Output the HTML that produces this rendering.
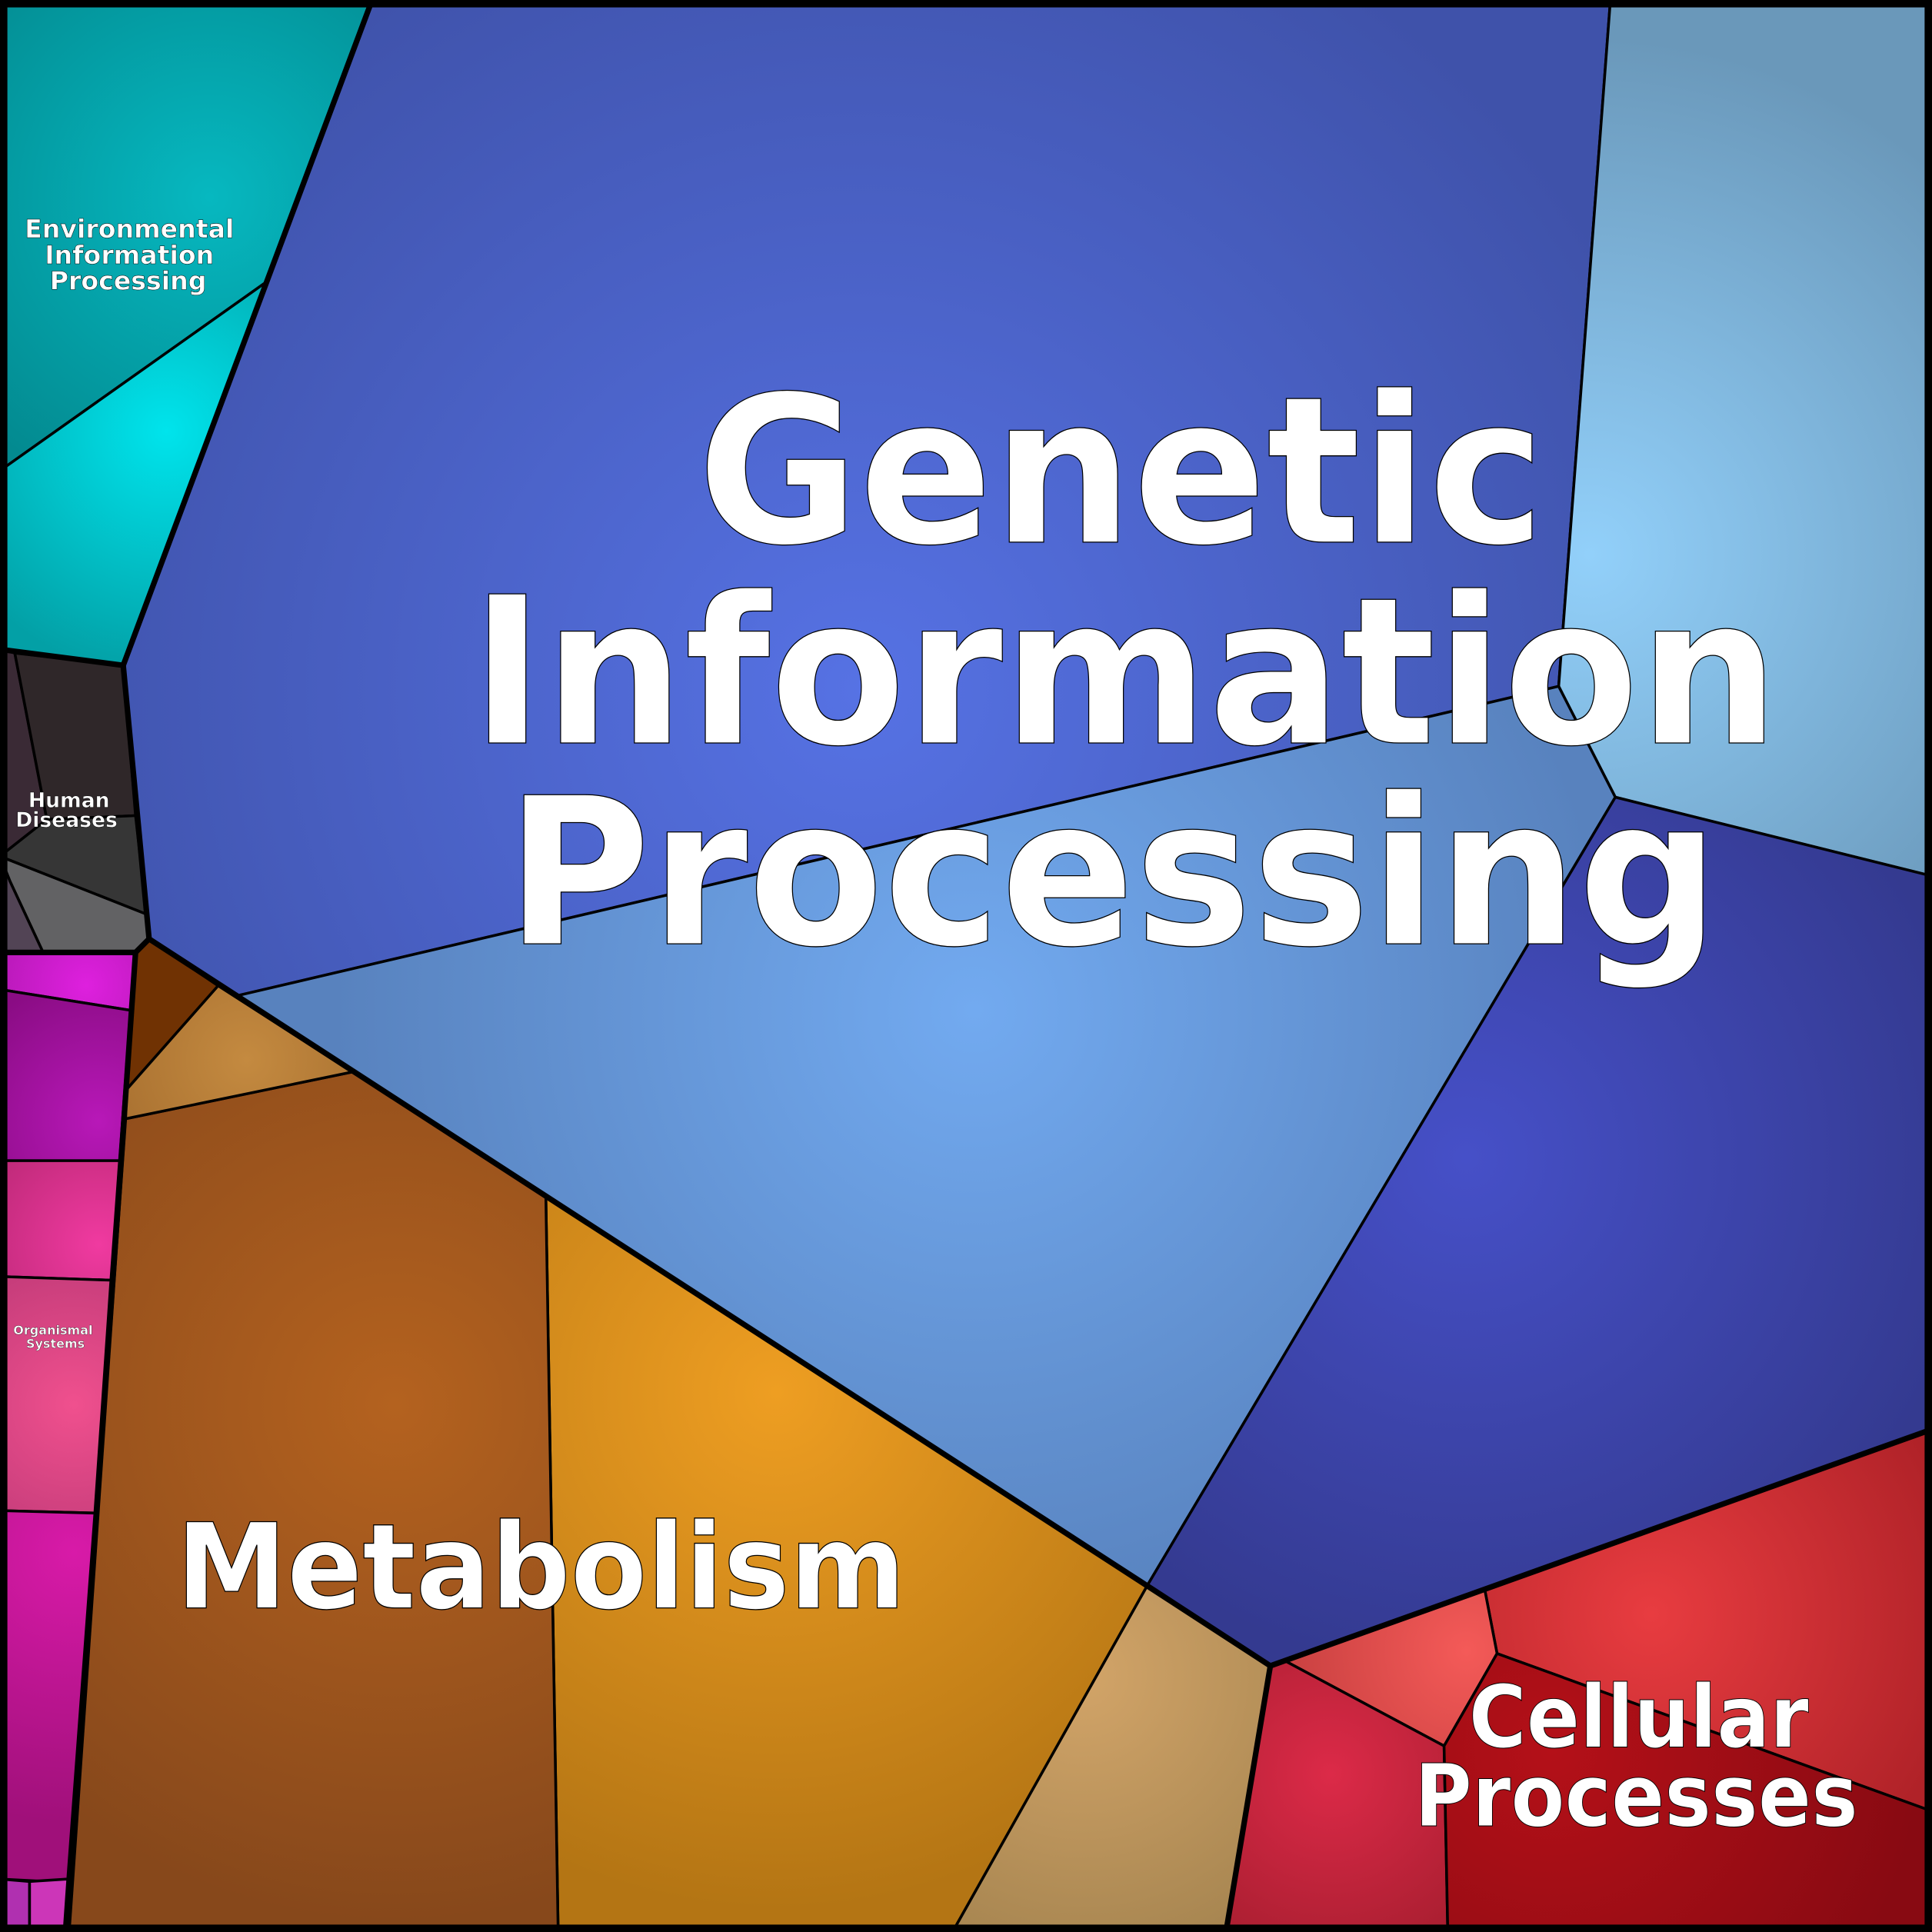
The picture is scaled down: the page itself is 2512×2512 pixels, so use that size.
<!DOCTYPE html>
<html><head><style>html,body{margin:0;padding:0;background:#000}svg{display:block}</style></head>
<body>
<svg width="2512" height="2512" viewBox="0 0 1568 1568" xmlns="http://www.w3.org/2000/svg">
<defs>
<radialGradient id="gTop" gradientUnits="userSpaceOnUse" cx="700" cy="560" r="700"><stop offset="0" stop-color="#5672e4"/><stop offset="1" stop-color="#3f52aa"/></radialGradient>
<radialGradient id="gMid" gradientUnits="userSpaceOnUse" cx="790" cy="820" r="520"><stop offset="0" stop-color="#72aaf0"/><stop offset="1" stop-color="#5882be"/></radialGradient>
<radialGradient id="gTR" gradientUnits="userSpaceOnUse" cx="1290" cy="450" r="420"><stop offset="0" stop-color="#92d0fa"/><stop offset="1" stop-color="#6a98ba"/></radialGradient>
<radialGradient id="gDB" gradientUnits="userSpaceOnUse" cx="1190" cy="940" r="420"><stop offset="0" stop-color="#4650c8"/><stop offset="1" stop-color="#343a90"/></radialGradient>
<radialGradient id="gEnv1" gradientUnits="userSpaceOnUse" cx="170" cy="160" r="260"><stop offset="0" stop-color="#06b8c0"/><stop offset="1" stop-color="#038a90"/></radialGradient>
<radialGradient id="gEnv2" gradientUnits="userSpaceOnUse" cx="135" cy="350" r="200"><stop offset="0" stop-color="#00e4ec"/><stop offset="1" stop-color="#03a0a6"/></radialGradient>
<radialGradient id="gBrown" gradientUnits="userSpaceOnUse" cx="320" cy="1140" r="420"><stop offset="0" stop-color="#b4621f"/><stop offset="1" stop-color="#87481b"/></radialGradient>
<radialGradient id="gOrange" gradientUnits="userSpaceOnUse" cx="630" cy="1130" r="420"><stop offset="0" stop-color="#ee9e22"/><stop offset="1" stop-color="#b47514"/></radialGradient>
<radialGradient id="gTan" gradientUnits="userSpaceOnUse" cx="880" cy="1360" r="260"><stop offset="0" stop-color="#d2a468"/><stop offset="1" stop-color="#a2824e"/></radialGradient>
<radialGradient id="gTan2" gradientUnits="userSpaceOnUse" cx="200" cy="860" r="120"><stop offset="0" stop-color="#c48a40"/><stop offset="1" stop-color="#a87030"/></radialGradient>
<radialGradient id="gRed1" gradientUnits="userSpaceOnUse" cx="1340" cy="1310" r="260"><stop offset="0" stop-color="#e83c40"/><stop offset="1" stop-color="#b02228"/></radialGradient>
<radialGradient id="gSalmon" gradientUnits="userSpaceOnUse" cx="1190" cy="1340" r="150"><stop offset="0" stop-color="#f45a58"/><stop offset="1" stop-color="#c84040"/></radialGradient>
<radialGradient id="gCrim" gradientUnits="userSpaceOnUse" cx="1080" cy="1440" r="160"><stop offset="0" stop-color="#dc2a48"/><stop offset="1" stop-color="#a81e30"/></radialGradient>
<radialGradient id="gDRed" gradientUnits="userSpaceOnUse" cx="1260" cy="1420" r="300"><stop offset="0" stop-color="#b41018"/><stop offset="1" stop-color="#880a12"/></radialGradient>
<radialGradient id="gMag1" gradientUnits="userSpaceOnUse" cx="70" cy="800" r="90"><stop offset="0" stop-color="#de20de"/><stop offset="1" stop-color="#b018b0"/></radialGradient>
<radialGradient id="gMag2" gradientUnits="userSpaceOnUse" cx="80" cy="910" r="120"><stop offset="0" stop-color="#b818b8"/><stop offset="1" stop-color="#8a0c84"/></radialGradient>
<radialGradient id="gPink1" gradientUnits="userSpaceOnUse" cx="80" cy="1010" r="100"><stop offset="0" stop-color="#f03aa0"/><stop offset="1" stop-color="#c02a7a"/></radialGradient>
<radialGradient id="gPink2" gradientUnits="userSpaceOnUse" cx="60" cy="1140" r="130"><stop offset="0" stop-color="#f0508e"/><stop offset="1" stop-color="#c03a78"/></radialGradient>
<radialGradient id="gPink3" gradientUnits="userSpaceOnUse" cx="60" cy="1260" r="220"><stop offset="0" stop-color="#d81aa8"/><stop offset="1" stop-color="#a0107a"/></radialGradient>
</defs>
<rect width="1568" height="1568" fill="#000"/>
<g stroke="#000" stroke-width="2.2" stroke-linejoin="round">
<polygon points="0,0 302,0 216,229 0,382" fill="url(#gEnv1)"/>
<polygon points="216,229 100,540 0,527 0,382" fill="url(#gEnv2)"/>
<polygon points="302,0 1307,0 1265,557 193,808 121,762 100,540" fill="url(#gTop)"/>
<polygon points="1307,0 1568,0 1568,711 1311,647 1265,557" fill="url(#gTR)"/>
<polygon points="193,808 1265,557 1311,647 931,1287" fill="url(#gMid)"/>
<polygon points="1311,647 1568,711 1568,1160 1031,1352 931,1287" fill="url(#gDB)"/>
<polygon points="1205,1290 1568,1160 1568,1470 1215,1342" fill="url(#gRed1)"/>
<polygon points="1043,1348 1205,1290 1215,1342 1172,1417" fill="url(#gSalmon)"/>
<polygon points="1031,1352 1043,1348 1172,1417 1175,1568 995,1568" fill="url(#gCrim)"/>
<polygon points="1215,1342 1568,1470 1568,1568 1175,1568 1172,1417" fill="url(#gDRed)"/>
<polygon points="931,1287 1031,1352 995,1568 773,1568" fill="url(#gTan)"/>
<polygon points="443,971 931,1287 773,1568 453,1568" fill="url(#gOrange)"/>
<polygon points="102,908 286,870 443,971 453,1568 55,1568" fill="url(#gBrown)"/>
<polygon points="102,885 177,800 286,870 102,908" fill="url(#gTan2)"/>
<polygon points="110,773 121,762 177,800 102,885" fill="#703203"/>
<polygon points="0,527 12,530 38,665 0,695" fill="#3a2a35"/>
<polygon points="12,530 100,540 110,662 38,665" fill="#2f2729"/>
<polygon points="38,665 110,662 119,742 0,695" fill="#363636"/>
<polygon points="0,695 119,742 121,762 110,773 35,773 8,715" fill="#626264"/>
<polygon points="0,695 8,715 35,773 0,773" fill="#524455"/>
<polygon points="0,773 110,773 106,820 0,803" fill="url(#gMag1)"/>
<polygon points="0,803 106,820 97,942 0,942" fill="url(#gMag2)"/>
<polygon points="0,942 97,942 90,1039 0,1036" fill="url(#gPink1)"/>
<polygon points="0,1036 90,1039 77,1228 0,1226" fill="url(#gPink2)"/>
<polygon points="0,1226 77,1228 55,1525 38,1527 0,1525" fill="url(#gPink3)"/>
<polygon points="0,1525 24,1527 24,1568 0,1568" fill="#b030b0"/>
<polygon points="24,1527 55,1525 52,1568 24,1568" fill="#cc36b8"/>
</g>
<g fill="none" stroke="#000" stroke-width="4.5" stroke-linejoin="round">
<polyline points="0,527 100,540 302,0"/>
<polyline points="100,540 121,762 931,1287 1031,1352 1568,1160"/>
<polyline points="1031,1352 995,1568"/>
<polyline points="0,773 110,773 121,762"/>
<polyline points="110,773 55,1568"/>
<rect x="2.5" y="2.5" width="1563" height="1563" stroke-width="7"/>
</g>
<g font-family="'DejaVu Sans','Liberation Sans',sans-serif" font-weight="bold" fill="#fff" stroke="#000" text-anchor="middle">
<g font-size="166" stroke-width="0.8">
<text x="910" y="440" textLength="688" lengthAdjust="spacingAndGlyphs">Genetic</text>
<text x="913" y="603" textLength="1062" lengthAdjust="spacingAndGlyphs">Information</text>
<text x="903" y="766" textLength="985" lengthAdjust="spacingAndGlyphs">Processing</text>
</g>
<text x="439" y="1305" font-size="96" stroke-width="0.8" textLength="592" lengthAdjust="spacingAndGlyphs">Metabolism</text>
<g font-size="70" stroke-width="0.6">
<text x="1330" y="1418" textLength="276" lengthAdjust="spacingAndGlyphs">Cellular</text>
<text x="1328" y="1482" textLength="360" lengthAdjust="spacingAndGlyphs">Processes</text>
</g>
<g font-size="20.7" stroke-width="0.3">
<text x="105" y="193">Environmental</text>
<text x="105" y="214">Information</text>
<text x="104" y="235">Processing</text>
</g>
<g font-size="16.6" stroke-width="0.3">
<text x="56" y="655">Human</text>
<text x="54" y="671">Diseases</text>
</g>
<g font-size="10" stroke-width="0.2">
<text x="43" y="1083">Organismal</text>
<text x="45" y="1094">Systems</text>
</g>
</g>
</svg>
</body></html>
